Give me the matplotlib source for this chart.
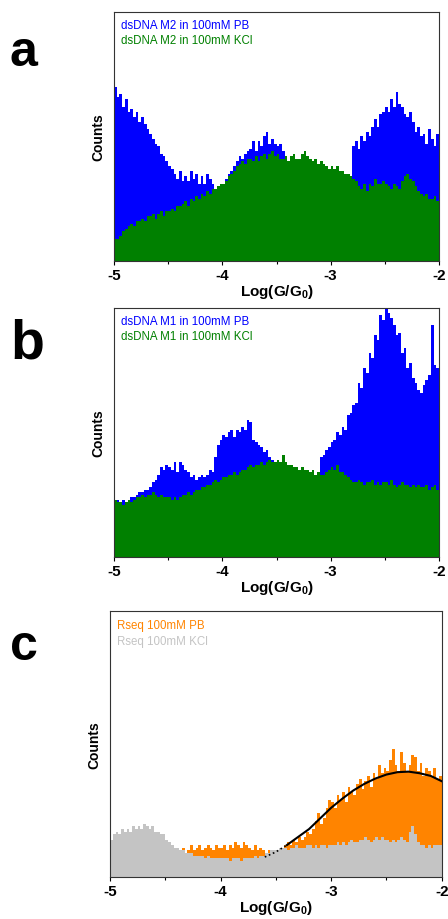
import numpy as np
import matplotlib
matplotlib.use('Agg')
import matplotlib.pyplot as plt

plt.rcParams['font.family'] = ['Liberation Sans', 'DejaVu Sans']
plt.rcParams['mathtext.fontset'] = 'custom'
plt.rcParams['mathtext.bf'] = 'Liberation Sans:bold'
plt.rcParams['mathtext.default'] = 'bf'

# histogram bins over Log(G/G0), 0.025 wide
edges = np.linspace(-5, -2, 121)
xticks = [-5, -4, -3, -2]
xtick_labels = ['-5', '-4', '-3', '-2']

# panel a
a_labels = ['dsDNA M2 in 100mM PB', 'dsDNA M2 in 100mM KCl']
a_pb = [70, 66, 67, 62, 65, 60, 61, 58, 60, 56,
        58, 55, 53, 51, 49, 47, 46, 43, 42, 40,
        38, 37, 35, 33, 36, 32, 34, 32, 36, 33,
        35, 31, 34, 31, 35, 33, 31, 29, 27, 30,
        31, 33, 35, 36, 38, 40, 42, 41, 43, 44,
        45, 48, 44, 48, 46, 50, 52, 47, 49, 47,
        46, 47, 44, 42, 40, 39, 38, 38, 37, 37,
        36, 36, 35, 35, 34, 34, 33, 33, 32, 32,
        32, 31, 31, 30, 31, 30, 31, 33, 46, 48,
        45, 50, 48, 52, 50, 54, 57, 54, 59, 60,
        62, 60, 65, 62, 68, 63, 62, 59, 58, 60,
        56, 52, 54, 50, 51, 47, 53, 49, 46, 51]
a_kcl = [9, 9, 10, 12, 13, 14, 15, 14, 16, 16,
         17, 16, 18, 18, 19, 17, 19, 20, 18, 20,
         20, 21, 20, 22, 22, 23, 24, 22, 25, 24,
         26, 25, 27, 26, 28, 27, 29, 29, 30, 31,
         31, 32, 34, 35, 36, 38, 39, 40, 39, 41,
         41, 40, 42, 40, 42, 43, 41, 43, 44, 42,
         43, 41, 41, 42, 40, 42, 43, 41, 41, 43,
         44, 42, 41, 40, 41, 39, 40, 39, 38, 37,
         38, 37, 38, 36, 36, 35, 35, 34, 33, 32,
         30, 29, 31, 28, 31, 30, 33, 31, 31, 32,
         31, 30, 29, 31, 30, 29, 32, 34, 35, 33,
         32, 30, 28, 27, 26, 27, 25, 25, 26, 24]

# panel b
b_labels = ['dsDNA M1 in 100mM PB', 'dsDNA M1 in 100mM KCl']
b_pb = [23, 23, 22, 23, 22, 23, 24, 24, 25, 26,
        26, 27, 27, 28, 30, 31, 33, 36, 35, 37,
        36, 35, 38, 34, 38, 37, 35, 34, 32, 33,
        31, 32, 33, 32, 33, 35, 34, 40, 45, 47,
        49, 48, 50, 51, 48, 51, 50, 52, 51, 55,
        54, 47, 46, 45, 44, 42, 43, 40, 39, 38,
        37, 36, 36, 35, 35, 34, 34, 35, 34, 33,
        33, 33, 32, 32, 33, 34, 40, 41, 43, 44,
        46, 47, 50, 49, 52, 51, 57, 58, 61, 62,
        70, 68, 76, 74, 82, 80, 89, 87, 97, 95,
        100, 98, 96, 93, 89, 90, 82, 84, 76, 78,
        72, 70, 67, 66, 69, 71, 73, 93, 77, 76]
b_kcl = [23, 22, 22, 21, 22, 23, 22, 23, 24, 24,
         25, 24, 25, 25, 26, 25, 24, 25, 24, 24,
         24, 23, 24, 23, 24, 25, 25, 26, 25, 26,
         27, 27, 28, 28, 29, 29, 30, 31, 30, 31,
         32, 32, 33, 33, 34, 33, 34, 35, 35, 36,
         37, 36, 37, 37, 38, 37, 38, 39, 38, 38,
         39, 38, 41, 38, 37, 37, 36, 36, 35, 36,
         35, 35, 34, 35, 33, 34, 33, 33, 34, 35,
         36, 35, 37, 34, 34, 33, 32, 31, 30, 30,
         31, 30, 29, 30, 30, 31, 29, 30, 29, 30,
         30, 29, 31, 29, 28, 29, 30, 29, 29, 28,
         29, 28, 29, 28, 28, 29, 27, 28, 29, 27]

# panel c
c_labels = ['Rseq 100mM PB', 'Rseq 100mM KCl']
c_pb = [5, 5, 5, 5, 5, 5, 5, 5, 5, 5,
        5, 5, 5, 5, 5, 5, 5, 5, 6, 7,
        8, 9, 9, 10, 9, 10, 11, 9, 10, 12,
        10, 11, 12, 10, 11, 12, 11, 10, 12, 11,
        11, 12, 10, 12, 11, 13, 12, 11, 13, 12,
        11, 10, 12, 10, 11, 10, 9, 10, 9, 8,
        8, 9, 10, 12, 13, 12, 14, 13, 15, 14,
        15, 17, 16, 18, 21, 24, 20, 22, 26, 29,
        28, 26, 31, 29, 32, 28, 34, 32, 31, 35,
        37, 33, 36, 38, 34, 39, 37, 42, 39, 41,
        40, 44, 48, 42, 40, 47, 43, 40, 42, 46,
        45, 40, 43, 38, 41, 40, 38, 41, 37, 38]
c_kcl = [14, 16, 17, 16, 18, 17, 18, 17, 19, 18,
         19, 18, 20, 19, 18, 19, 17, 17, 16, 16,
         14, 13, 12, 11, 11, 10, 10, 9, 9, 9,
         8, 8, 8, 8, 7, 8, 7, 7, 7, 7,
         7, 7, 7, 6, 7, 7, 7, 6, 7, 7,
         7, 7, 8, 7, 8, 8, 9, 9, 10, 10,
         10, 11, 11, 11, 10, 11, 11, 12, 11, 11,
         11, 12, 12, 11, 12, 11, 12, 12, 11, 12,
         12, 12, 13, 12, 13, 12, 13, 14, 13, 13,
         14, 14, 15, 14, 13, 14, 15, 14, 15, 14,
         14, 13, 14, 13, 14, 15, 14, 13, 17, 19,
         16, 13, 12, 12, 11, 12, 11, 12, 12, 12]
# gaussian fit
fit_x = [-3.6, -3.5, -3.4, -3.3, -3.2, -3.1, -3.0, -2.9, -2.8, -2.7,
         -2.6, -2.5, -2.4, -2.3, -2.2, -2.1, -2.0]
fit_y = [7.5, 9.4, 12, 15, 18, 22, 26, 29.4, 32.5, 35,
         37, 38.5, 39.4, 39.6, 39, 38, 36]

fig = plt.figure(figsize=(4.48, 9.2), dpi=100)
axa = fig.add_axes([0.2545, 0.7152, 0.7254, 0.2707])
axb = fig.add_axes([0.2545, 0.3935, 0.7254, 0.2707])
axc = fig.add_axes([0.2455, 0.0457, 0.7405, 0.2891])

panels = [
    (axa, a_pb, a_kcl, a_labels, ['#0000ff', '#008000']),
    (axb, b_pb, b_kcl, b_labels, ['#0000ff', '#008000']),
    (axc, c_pb, c_kcl, c_labels, ['#ff8400', '#c4c4c4']),
]

for ax, pb, kcl, labels, cols in panels:
    ax.stairs(pb, edges, fill=True, color=cols[0], lw=0)
    ax.stairs(kcl, edges, fill=True, color=cols[1], lw=0)
    ax.set_xlim(-5, -2)
    ax.set_ylim(0, 100)
    ax.set_yticks([])
    ax.set_xticks(xticks)
    ax.set_xticklabels(xtick_labels, fontweight='bold', fontsize=11)
    ax.set_xticks([-4.5, -3.5, -2.5], minor=True)
    ax.tick_params(axis='x', which='major', direction='out', length=3, width=0.8, pad=2)
    ax.tick_params(axis='x', which='minor', direction='out', length=2, width=0.8)
    ax.set_xlabel('Log(G/G$_0$)', fontweight='bold', fontsize=11, labelpad=0)
    ax.set_ylabel('Counts', fontweight='bold', fontsize=10, labelpad=6)
    for s in ax.spines.values():
        s.set_color('#333333')
        s.set_linewidth(0.8)
    ax.text(0.02, 0.97, labels[0], color=cols[0], fontsize=8.3, transform=ax.transAxes, va='top')
    ax.text(0.02, 0.91, labels[1], color=cols[1], fontsize=8.3, transform=ax.transAxes, va='top')

axc.plot(fit_x[:3], fit_y[:3], color='black', lw=1.2, ls=':')
axc.plot(fit_x[2:], fit_y[2:], color='black', lw=1.5)

fig.text(0.022, 0.928, 'a', fontsize=36, fontweight='bold')
fig.text(0.024, 0.610, 'b', fontsize=40, fontweight='bold')
fig.text(0.022, 0.283, 'c', fontsize=36, fontweight='bold')

plt.savefig('out.png', dpi=100)
